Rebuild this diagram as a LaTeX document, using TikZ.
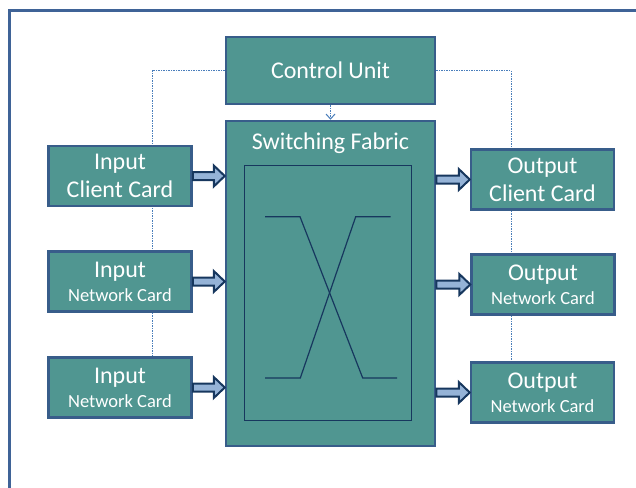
\documentclass[tikz,border=0pt]{standalone}
\usepackage{fontspec}
\setmainfont{Carlito}
\usetikzlibrary{backgrounds,arrows.meta}

\definecolor{boxfill}{RGB}{80,150,145}
\definecolor{boxline}{RGB}{56,93,138}
\definecolor{arrfill}{RGB}{149,179,215}
\definecolor{arrline}{RGB}{23,55,94}
\definecolor{dotline}{RGB}{74,126,187}
\definecolor{frameline}{RGB}{63,99,151}

\newcommand{\bigtxt}{\fontsize{24}{29}\selectfont}
\newcommand{\smalltxt}{\fontsize{18.5}{22}\selectfont}

% fat block arrow from #1 to #2 (both on one horizontal line)
\newcommand{\fatarrow}[2]{%
  \draw[fatarr] ([yshift=4pt]#1) -- ([xshift=-11pt,yshift=4pt]#2)
    -- ([xshift=-11pt,yshift=10.5pt]#2) -- (#2)
    -- ([xshift=-11pt,yshift=-10.5pt]#2) -- ([xshift=-11pt,yshift=-4pt]#2)
    -- ([yshift=-4pt]#1) -- cycle;}

\begin{document}
\begin{tikzpicture}[x=1pt,y=-1pt]
  \tikzstyle{card}=[draw=boxline, fill=boxfill, line width=2.5pt, text=white, align=center,
                    minimum width=143pt, minimum height=60pt, inner sep=0pt, font=\bigtxt]
  \tikzstyle{fatarr}=[draw=arrline, fill=arrfill, line width=2pt, line join=miter]
  \tikzstyle{ctrlline}=[draw=dotline, line width=1pt, dash pattern=on 1.5pt off 1pt]
  \tikzstyle{xline}=[draw=arrline, line width=1.2pt]

  \useasboundingbox (0,0) rectangle (636,487);
  \draw[frameline, line width=3pt] (9.5,490) -- (9.5,10.5) -- (640,10.5);

  \node[card, minimum width=209pt, minimum height=67pt] (ctrl) at (330.5,70.5) {Control Unit};
  \node[card, minimum width=209pt, minimum height=325pt] (fab) at (330.5,283.5) {};
  \node[text=white, font=\bigtxt] (fab-title) at (330.5,143) {Switching Fabric};

  % inner switch
  \draw[arrline, line width=1pt] (244,165) rectangle (411,420);
  \draw[xline] (265,216.7) -- (300,216.7) -- (362.7,378) -- (397,378);
  \draw[xline] (265,378) -- (300.3,378) -- (355.7,216.7) -- (390.7,216.7);

  \foreach \name/\first/\gap/\second/\x/\y in {in1/Input/-1pt/Client Card/120/176,
      in2/Input/-5pt/{\smalltxt Network Card}/120/281.5, in3/Input/-5pt/{\smalltxt Network Card}/120/387.5,
      out1/Output/-1pt/Client Card/542.5/179.5, out2/Output/-5pt/{\smalltxt Network Card}/543/284.5,
      out3/Output/-5pt/{\smalltxt Network Card}/542.5/392.5}
    \node[card] (\name) at (\x,\y) {\first\\[\gap]\second};

  \foreach \c in {in1,in2,in3} {
    \coordinate (\c-tip) at (\c.east -| fab.west);
    \fatarrow{\c.east}{\c-tip}
  }
  \foreach \c in {out1,out2,out3} {
    \coordinate (\c-tail) at (\c.west -| fab.east);
    \fatarrow{\c-tail}{\c.west}
  }

  \begin{scope}[on background layer]
    \draw[ctrlline] (ctrl.west) -| ([xshift=32pt]in3.north);
    \draw[ctrlline] (ctrl.east) -| ([xshift=-31.5pt]out3.north);
  \end{scope}
  \draw[ctrlline, -{Straight Barb[length=5pt,width=9pt]}] (ctrl.south) -- (fab.north);
\end{tikzpicture}
\end{document}
